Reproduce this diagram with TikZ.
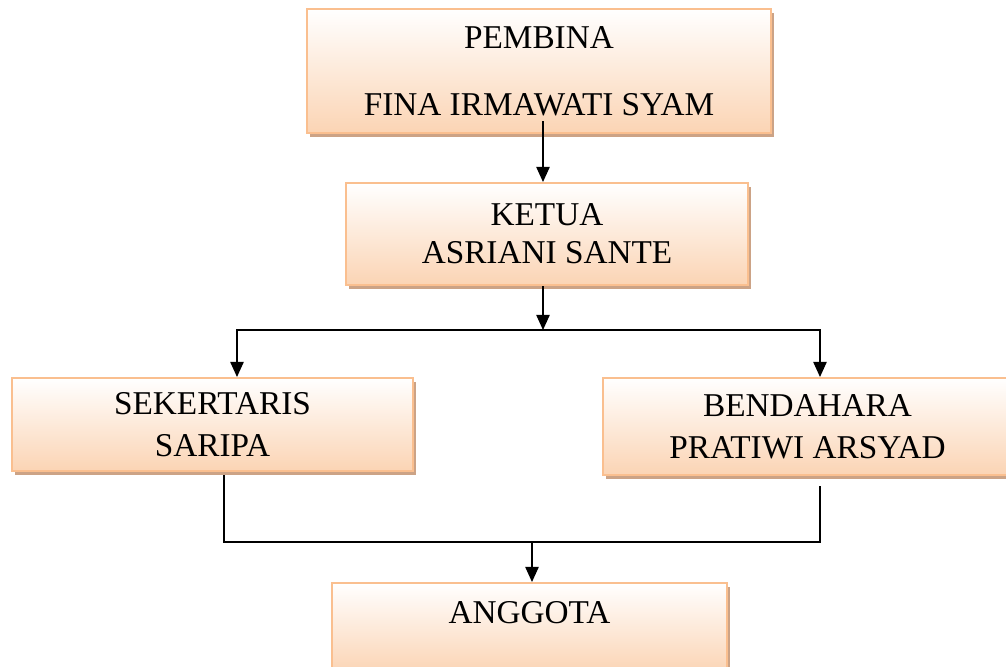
\documentclass[tikz,border=0pt]{standalone}
\usepackage{fontspec}
\setmainfont{Liberation Serif}
\usetikzlibrary{calc,shadows,arrows.meta}
\definecolor{boxfill}{RGB}{251,212,180}
\definecolor{boxline}{RGB}{250,191,143}
\definecolor{boxshade}{RGB}{204,163,134}
\tikzset{
	orgbox/.style={draw=boxline, line width=1.7pt, top color=white, bottom color=boxfill,
		drop shadow={shadow xshift=2.5pt, shadow yshift=-3.5pt, fill=boxshade, opacity=1},
		align=center, inner sep=0pt, font=\fontsize{28.4}{32.5}\selectfont},
	arr/.style={line width=1.2pt, -{Triangle[length=13pt,width=11.5pt]}},
	link/.style={line width=1.2pt}
}

\begin{document}
\begin{tikzpicture}[x=0.03cm,y=-0.03cm]
	\useasboundingbox (0,0) rectangle (1006,666);
	\node[orgbox, minimum width=13.92cm, minimum height=3.72cm] (pembina) at (539,71) {PEMBINA\\[25pt]FINA IRMAWATI SYAM};
	\node[orgbox, minimum width=12.06cm, minimum height=3.06cm] (ketua) at (547,234) {KETUA\\ASRIANI SANTE};
	\node[orgbox, minimum width=12.03cm, minimum height=2.79cm] (sekertaris) at (212.5,424.5) {SEKERTARIS\\[3pt]SARIPA};
	\node[orgbox, minimum width=12.27cm, minimum height=2.91cm] (bendahara) at (807.5,426.5) {BENDAHARA\\[3pt]PRATIWI ARSYAD};
	\node[orgbox, minimum width=11.85cm, minimum height=2.7cm] (anggota) at (529.5,628) {ANGGOTA\\[-6pt]\mbox{}};
	\coordinate (split) at (543,330);
	\coordinate (merge) at (532,542);
	\draw[arr] ($(pembina.south)+(4,-13)$) -- (ketua.north -| split);
	\draw[arr] (ketua.south -| split) -- (split);
	\draw[arr] (split) -| ($(sekertaris.north)+(24.5,0)$);
	\draw[arr] (split) -| ($(bendahara.north)+(12.5,0)$);
	\draw[link] ($(sekertaris.south)+(11.5,3)$) |- (merge);
	\draw[link] ($(bendahara.south)+(12.5,10)$) |- (merge);
	\draw[arr] (merge) -- (anggota.north -| merge);
\end{tikzpicture}
\end{document}
